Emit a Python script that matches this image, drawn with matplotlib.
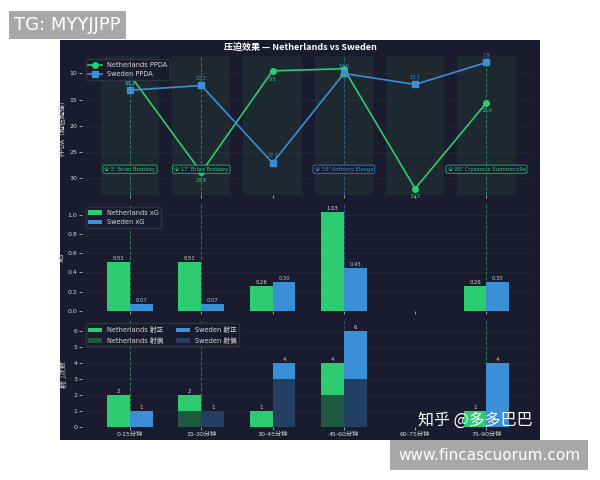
import matplotlib
matplotlib.use("Agg")
import matplotlib.pyplot as plt
from matplotlib.patches import Rectangle
import numpy as np

plt.rcParams['font.family'] = ['DejaVu Sans', 'Noto Sans CJK SC']

periods = ["0-15分钟", "15-30分钟", "30-45分钟", "45-60分钟", "60-75分钟", "75-90分钟"]
nl_ppda = [10.3, 28.9, 9.5, 9.1, 32.0, 15.6]
sw_ppda = [13.2, 12.3, 27.1, 10.0, 12.1, 7.9]
nl_xg = [0.51, 0.51, 0.26, 1.03, 0.0, 0.26]
sw_xg = [0.07, 0.07, 0.30, 0.45, 0.0, 0.30]
nl_on = [2, 1, 1, 2, 0, 1]
nl_off = [0, 1, 0, 2, 0, 0]
sw_on = [1, 0, 1, 3, 0, 4]
sw_off = [0, 1, 3, 3, 0, 0]
goal_slots = [0, 1, 3, 5]
goal_labels = ["5' Brian Brobbey", "17' Brian Brobbey", "59' Anthony Elanga", "89' Crysencio Summerville"]
goal_teams = ["nl", "nl", "sw", "nl"]

bg = '#1a1b2e'
green = '#2ecc71'
blue = '#3a8fd6'
green_dk = '#1f5a40'
blue_dk = '#233f63'
txt = '#d8d8d8'
team_col = {"nl": green, "sw": blue}

fig = plt.figure(figsize=(6, 4.8), dpi=100, facecolor='white')
fig.patches.append(Rectangle((0.1, 0.0833), 0.8, 0.8333, transform=fig.transFigure,
                             facecolor=bg, edgecolor='none', zorder=-10))

left, width = 0.137, 0.751
ax1 = fig.add_axes([left, 0.594, width, 0.289])
ax2 = fig.add_axes([left, 0.352, width, 0.223])
ax3 = fig.add_axes([left, 0.110, width, 0.223])

x = np.arange(len(periods))
for ax in (ax1, ax2, ax3):
    ax.set_facecolor(bg)
    for s in ax.spines.values():
        s.set_visible(False)
    ax.tick_params(colors=txt, labelsize=4.5, length=2, width=0.5, pad=1.5)
    ax.set_xlim(-0.67, 5.65)
    ax.set_xticks(x)
    ax.grid(axis='y', color='white', alpha=0.05, lw=0.5)
    ax.set_axisbelow(True)
    for slot, team in zip(goal_slots, goal_teams):
        ax.axvline(slot, color=team_col[team], ls='--', lw=0.7, alpha=0.55, zorder=1)

# PPDA panel
for i in x:
    ax1.axvspan(i - 0.41, i + 0.41, color='#2a4a3a', alpha=0.28, lw=0, zorder=0)
ax1.plot(x, nl_ppda, '-o', color=green, lw=1.2, ms=4, label='Netherlands PPDA', zorder=3)
ax1.plot(x, sw_ppda, '-s', color=blue, lw=1.2, ms=4, label='Sweden PPDA', zorder=3)
for i in x:
    ax1.annotate(f"{nl_ppda[i]:.1f}", (i, nl_ppda[i]), xytext=(0, -7), textcoords='offset points',
                 ha='center', fontsize=3.5, color=green)
    ax1.annotate(f"{sw_ppda[i]:.1f}", (i, sw_ppda[i]), xytext=(0, 4), textcoords='offset points',
                 ha='center', fontsize=3.5, color=blue)
for slot, lab, team in zip(goal_slots, goal_labels, goal_teams):
    ax1.text(slot, 28.3, "⚽ " + lab, ha='center', va='center', fontsize=3.8, color=team_col[team],
             bbox=dict(boxstyle='round,pad=0.3', facecolor=bg, edgecolor=team_col[team], lw=0.6, alpha=0.85),
             zorder=4)
ax1.invert_yaxis()
ax1.set_xticklabels([])
ax1.set_yticks([10, 15, 20, 25, 30])
ax1.set_ylabel('PPDA（越低越强）', color=txt, fontsize=5, family=['Noto Sans CJK SC'], labelpad=2)
ax1.legend(loc='upper left', fontsize=4.8, facecolor=bg, edgecolor='#333344', labelcolor=txt,
           framealpha=0.9)

# xG panel
w = 0.32
ax2.bar(x - w / 2, nl_xg, w, color=green, label='Netherlands xG', zorder=2)
ax2.bar(x + w / 2, sw_xg, w, color=blue, label='Sweden xG', zorder=2)
for i in x:
    if nl_xg[i] > 0:
        ax2.text(i - w / 2, nl_xg[i] + 0.01, f"{nl_xg[i]:.2f}", ha='center', va='bottom', fontsize=3.8, color=txt)
    if sw_xg[i] > 0:
        ax2.text(i + w / 2, sw_xg[i] + 0.01, f"{sw_xg[i]:.2f}", ha='center', va='bottom', fontsize=3.8, color='#9cc8f0')
ax2.set_ylim(0, 1.11)
ax2.set_xticklabels([])
ax2.set_ylabel('xG', color=txt, fontsize=5, labelpad=2)
ax2.legend(loc='upper left', fontsize=4.8, facecolor=bg, edgecolor='#333344', labelcolor=txt, framealpha=0.9)

# Shots panel
h1 = ax3.bar(x - w / 2, nl_off, w, color=green_dk, zorder=2)
h2 = ax3.bar(x - w / 2, nl_on, w, bottom=nl_off, color=green, zorder=2)
h3 = ax3.bar(x + w / 2, sw_off, w, color=blue_dk, zorder=2)
h4 = ax3.bar(x + w / 2, sw_on, w, bottom=sw_off, color=blue, zorder=2)
for i in x:
    nt = nl_on[i] + nl_off[i]
    st = sw_on[i] + sw_off[i]
    if nt > 0:
        ax3.text(i - w / 2, nt + 0.1, str(nt), ha='center', va='bottom', fontsize=4, color=txt)
    if st > 0:
        ax3.text(i + w / 2, st + 0.1, str(st), ha='center', va='bottom', fontsize=4, color=txt)
ax3.set_ylim(0, 6.7)
ax3.set_yticks(range(7))
ax3.set_xticklabels(periods, family=['DejaVu Sans', 'Noto Sans CJK SC'])
ax3.set_ylabel('射门次数', color=txt, fontsize=5, family=['Noto Sans CJK SC'], labelpad=4)
ax3.legend([h2, h1, h4, h3], ['Netherlands 射正', 'Netherlands 射偏', 'Sweden 射正', 'Sweden 射偏'],
           loc='upper left', ncol=2, facecolor=bg, edgecolor='#333344', labelcolor=txt,
           framealpha=0.9, prop={'family': ['DejaVu Sans', 'Noto Sans CJK SC'], 'size': 4.8})

fig.text(0.5, 0.902, '压迫效果 — Netherlands vs Sweden', ha='center', va='center', color='white',
         fontsize=6.5, fontweight='bold', family=['Noto Sans CJK SC', 'DejaVu Sans'])

# watermarks
fig.text(0.024, 0.948, 'TG: MYYJJPP', ha='left', va='center', color='white', fontsize=13,
         bbox=dict(boxstyle='square,pad=0.3', facecolor='#a8a8a8', edgecolor='none'))
fig.text(0.967, 0.052, 'www.fincascuorum.com', ha='right', va='center', color='white', fontsize=11,
         bbox=dict(boxstyle='square,pad=0.5', facecolor='#a8a8a8', edgecolor='none'))
fig.text(0.697, 0.125, '知乎 @多多巴巴', ha='left', va='center', color='white', fontsize=11.5,
         family=['Noto Sans CJK SC'])

fig.savefig('out.png', dpi=100, facecolor='white')
